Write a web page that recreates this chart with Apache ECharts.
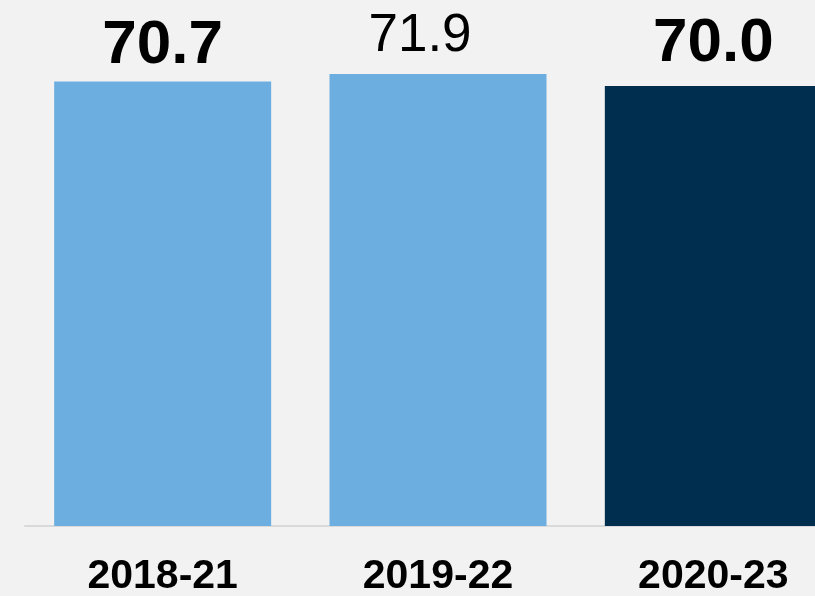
<!DOCTYPE html>
<html lang="en">
<head>
    <meta charset="utf-8">
    <title>Bar chart</title>
    <script src="https://cdn.jsdelivr.net/npm/echarts@6/dist/echarts.min.js"></script>
    <style type="text/css">
        html, body {
            width: 100%;
            height: 100%;
            margin: 0px;
            padding: 0px;
            background: #f2f2f2;
        }

        #main {
            width: 815px;
            height: 596px;
        }
    </style>
</head>
<body>
<div id="main"></div>
<script>
    // data
    var periods = ['2018-21', '2019-22', '2020-23'];
    var values = [70.7, 71.9, 70.0];
    var barColors = ['#6caee0', '#6caee0', '#002e4f'];
    var labelWeights = ['bold', 'normal', 'bold'];
    var labelGaps = [5, 11, 11];
    var labelShift = [0, -18, 0];

    var myChart = echarts.init(document.getElementById('main'));

    var barData = values.map(function (v, i) {
        var bold = labelWeights[i] === 'bold';
        return {
            value: v,
            itemStyle: { color: barColors[i] },
            label: {
                fontWeight: labelWeights[i],
                fontSize: bold ? 62 : 53,
                distance: labelGaps[i],
                offset: [labelShift[i], 0]
            }
        };
    });

    myChart.setOption({
        backgroundColor: '#f2f2f2',
        animation: false,
        grid: {
            left: 25,
            width: 826,
            top: 23,
            bottom: 70,
            outerBoundsMode: 'none',
            containLabel: false
        },
        xAxis: {
            type: 'category',
            data: periods,
            axisLine: { lineStyle: { color: '#d9d9d9', width: 2 } },
            axisTick: { show: false },
            axisLabel: {
                color: '#000',
                fontFamily: 'Liberation Sans',
                fontWeight: 'bold',
                fontSize: 41,
                margin: 30
            }
        },
        yAxis: {
            type: 'value',
            min: 0,
            max: 80,
            show: false,
            splitLine: { show: false }
        },
        series: [
            {
                type: 'bar',
                data: barData,
                barWidth: 217,
                label: {
                    show: true,
                    position: 'top',
                    color: '#000',
                    fontFamily: 'Liberation Sans',
                    formatter: function (p) { return p.value.toFixed(1); }
                }
            }
        ]
    });
</script>
</body>
</html>
